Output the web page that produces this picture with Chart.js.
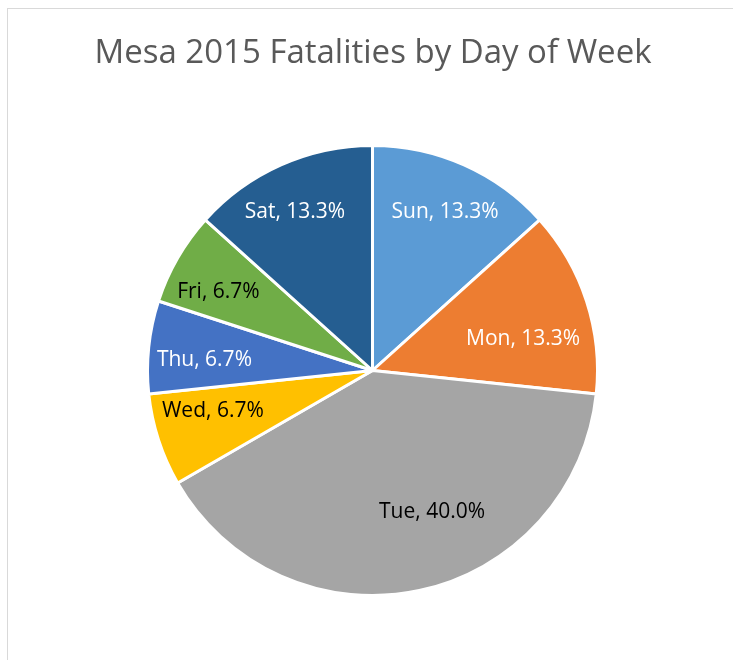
<!DOCTYPE html>
<html>
<head>
<meta charset="utf-8">
<script src="https://cdn.jsdelivr.net/npm/chart.js@4.4.1/dist/chart.umd.min.js"></script>
<style>
    body { margin: 0; background: #fff; }
    #wrap { position: relative; width: 733px; height: 660px; }
    #frame {
        position: absolute; left: 7px; top: 8px; right: -2px; bottom: -2px;
        border-left: 1px solid #d9d9d9; border-top: 1px solid #d9d9d9;
        pointer-events: none;
    }
</style>
</head>
<body>
<div id="wrap">
    <canvas id="pieChart" width="733" height="660"></canvas>
    <div id="frame"></div>
</div>
<script>
const days = ['Sun', 'Mon', 'Tue', 'Wed', 'Thu', 'Fri', 'Sat'];
const fatalities = [2, 2, 6, 1, 1, 1, 2];
const chartTitle = 'Mesa 2015 Fatalities by Day of Week';

const sliceColors = ['#5B9BD5', '#ED7D31', '#A5A5A5', '#FFC000', '#4472C4', '#70AD47', '#255E91'];
const labelColors = ['#fff', '#fff', '#000', '#000', '#fff', '#000', '#fff'];
// small shifts so labels sit roughly where Excel's best fit put them
const labelNudge = [[3, -2], [-12, 21], [24, -26], [3, -12], [2, 7], [-6, 7], [-8, -2]];

const total = fatalities.reduce((a, b) => a + b, 0);

const titleText = {
    id: 'titleText',
    afterDraw(chart) {
        const ctx = chart.ctx;
        ctx.save();
        ctx.font = '33px "Open Sans"';
        ctx.fillStyle = '#595959';
        ctx.textAlign = 'center';
        ctx.textBaseline = 'alphabetic';
        ctx.fillText(chartTitle, 373, 63);
        ctx.restore();
    }
};

const sliceLabels = {
    id: 'sliceLabels',
    afterDatasetsDraw(chart) {
        const ctx = chart.ctx;
        const meta = chart.getDatasetMeta(0);
        ctx.save();
        ctx.font = '21px "Open Sans"';
        ctx.textAlign = 'center';
        ctx.textBaseline = 'middle';
        meta.data.forEach((arc, i) => {
            const p = arc.getProps(['x', 'y', 'startAngle', 'endAngle', 'outerRadius']);
            const mid = (p.startAngle + p.endAngle) / 2;
            const r = p.outerRadius * 0.76;
            const x = p.x + Math.cos(mid) * r + labelNudge[i][0];
            const y = p.y + Math.sin(mid) * r + labelNudge[i][1];
            const pct = (fatalities[i] / total * 100).toFixed(1) + '%';
            ctx.fillStyle = labelColors[i];
            ctx.fillText(days[i] + ', ' + pct, x, y);
        });
        ctx.restore();
    }
};

const ctx = document.getElementById('pieChart').getContext('2d');

new Chart(ctx, {
    type: 'pie',
    data: {
        labels: days,
        datasets: [{
            data: fatalities,
            backgroundColor: sliceColors,
            borderColor: '#fff',
            borderWidth: 3
        }]
    },
    options: {
        responsive: false,
        animation: false,
        layout: {
            padding: { top: 144, left: 146, right: 134, bottom: 63 }
        },
        plugins: {
            legend: { display: false },
            tooltip: { enabled: false },
            title: { display: false }
        }
    },
    plugins: [sliceLabels, titleText]
});
</script>
</body>
</html>
